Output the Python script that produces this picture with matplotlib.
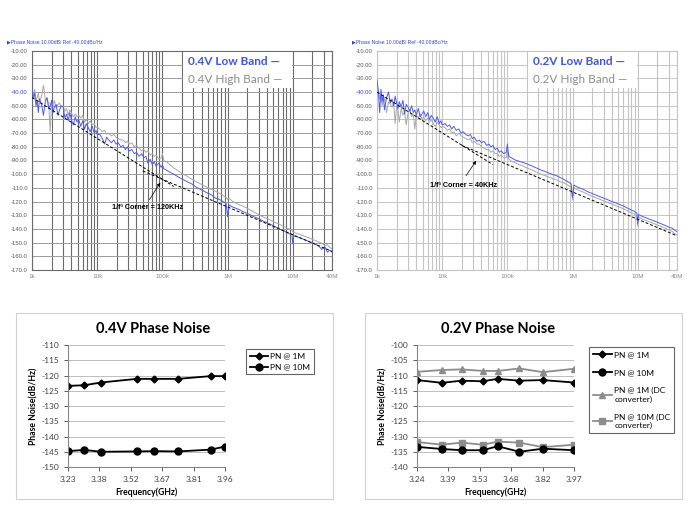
import matplotlib
matplotlib.use("Agg")
import matplotlib.pyplot as plt
import numpy as np
from matplotlib.patches import Rectangle
from matplotlib.ticker import LogLocator, NullFormatter

plt.rcParams['axes.unicode_minus'] = False

# offset frequencies shared by the four analyser traces (kHz)
freq_khz = [
    1.0, 1.05, 1.1, 1.15, 1.2, 1.25, 1.3, 1.4, 1.5, 1.6,
    1.7, 1.8, 1.9, 2.0, 2.1, 2.2, 2.35, 2.5, 2.65, 2.8,
    3.0, 3.2, 3.4, 3.6, 3.8, 4.0, 4.3, 4.6, 4.9, 5.2,
    5.6, 6.0, 6.4, 6.8, 7.3, 7.8, 8.4, 9.0, 9.6, 10.0,
    11, 12, 13, 14, 15, 16.5, 18, 19.5, 21, 23,
    25, 27, 29, 31, 34, 37, 40, 44, 48, 52,
    56, 60, 65, 70, 75, 80, 88, 96, 100, 105,
    115, 130, 150, 175, 200, 240, 280, 330, 400, 480,
    560, 650, 750, 850, 950, 1000, 1050, 1200, 1450, 1750,
    2100, 2500, 3000, 3600, 4300, 5200, 6200, 7400, 8800, 9700,
    10000, 10300, 12000, 14500, 17500, 21000, 25000, 28000, 31000, 34000,
    37000, 40000,
]

# phase noise traces (dBc/Hz)
pn_04v_low = [
    -38, -44, -41, -50, -46, -55, -45, -49, -57, -47,
    -44, -52, -50, -46, -55, -51, -49, -57, -53, -50,
    -51, -59, -56, -61, -55, -60, -64, -58, -62, -60,
    -65, -61, -67, -63, -66, -69, -65, -70, -68, -71,
    -71, -74, -78, -73, -75, -77, -75, -78, -77, -80,
    -79, -82, -80, -83, -82, -85, -84, -87, -85, -88,
    -87, -92, -89, -93, -91, -94, -92, -95, -93, -96,
    -97, -98.5, -100, -102, -103.5, -105.5, -107, -109.5, -111.5, -113.5,
    -115, -117.5, -118.5, -120, -121.5, -131, -122.5, -124, -125.5, -127.5,
    -129, -131, -132.5, -134.5, -136, -138, -140, -141.5, -143.5, -144,
    -151, -145, -146, -147.5, -149, -150.5, -152.5, -155, -153, -157,
    -155.5, -157,
]
pn_04v_high = [
    -39, -42, -38, -46, -44, -41, -47, -43, -35, -46,
    -45, -48, -69, -47, -50, -46, -52, -49, -48, -51,
    -50, -54, -52, -57, -53, -55, -58, -56, -58, -57,
    -59, -57, -62, -60, -63, -61, -64, -63, -66, -66,
    -67, -69, -68, -71, -70, -72, -71, -73, -74, -75,
    -75, -77, -76, -78, -77, -80, -79, -81, -83, -82,
    -84, -83, -86, -85, -87, -86, -89, -88, -85, -90,
    -91, -93, -95.5, -97.5, -99.5, -101.5, -103.5, -105.5, -107.5, -109.5,
    -111, -112.5, -114, -115.5, -117, -118.5, -117.5, -120, -122, -123.5,
    -125.5, -127.5, -129.5, -131.5, -133, -135, -136.5, -138.5, -140, -141,
    -142, -142.5, -143.5, -145, -146.5, -148, -149.5, -150.5, -152, -151.5,
    -153.5, -154.5,
]
pn_02v_low = [
    -31, -40, -55, -38, -47, -42, -53, -44, -40, -48,
    -45, -50, -43, -48, -52, -47, -51, -46, -56, -49,
    -51, -54, -50, -55, -53, -57, -52, -58, -56, -54,
    -58, -55, -60, -57, -59, -62, -58, -63, -61, -64,
    -63, -65, -64, -67, -65, -68, -67, -70, -69, -71,
    -72, -71, -74, -73, -76, -75, -77, -76, -79, -78,
    -80, -79, -82, -81, -84, -83, -85, -84, -78, -87,
    -88, -89.5, -90.5, -91.5, -92.5, -94, -95.5, -97, -98.5, -100,
    -101, -102.5, -104, -105.5, -107, -117, -108, -109.5, -111, -113,
    -114.5, -116, -117.5, -119, -120.5, -122, -123.5, -125.5, -127, -128.5,
    -136, -129.5, -131, -132.5, -134, -135.5, -137, -138, -139, -139.5,
    -141, -142,
]
pn_02v_high = [
    -40, -38, -45, -43, -50, -46, -44, -55, -47, -49,
    -51, -48, -63, -50, -53, -62, -52, -57, -54, -64,
    -55, -53, -58, -56, -67, -57, -59, -56, -60, -58,
    -61, -59, -62, -60, -63, -65, -62, -64, -66, -65,
    -66, -68, -67, -70, -69, -72, -70, -72, -73, -74,
    -75, -74, -77, -76, -78, -78, -80, -81, -82, -82,
    -84, -83, -85, -85, -87, -86, -88, -88, -82, -89,
    -90.5, -91.5, -93, -94, -95.5, -97, -98.5, -100, -101.5, -103,
    -104, -105.5, -106.5, -108, -109.5, -119, -110, -111.5, -113, -115,
    -116.5, -118, -119.5, -121, -122.5, -124, -125.5, -127.5, -129, -130.5,
    -138, -131.5, -133, -134.5, -136, -137.5, -139, -140, -141, -142,
    -143.5, -144.5,
]

# 1/f^3 and 1/f^2 asymptotes (Hz, dBc/Hz)
guide_04v_f3_hz = [1e3, 150e3]
guide_04v_f3_db = [-44, -109]
guide_04v_f2_hz = [50e3, 40e6]
guide_04v_f2_db = [-97.6, -156.4]
guide_02v_f3_hz = [1e3, 60e3]
guide_02v_f3_db = [-40, -93]
guide_02v_f2_hz = [20e3, 40e6]
guide_02v_f2_db = [-79, -145]

# summary over carrier frequency
freq_04v_ghz = [3.23, 3.305, 3.383, 3.55, 3.628, 3.742, 3.893, 3.96]
pn1m_04v = [-123.4, -123.2, -122.3, -121.1, -121.1, -121.1, -120.2, -120.2]
pn10m_04v = [-144.8, -144.4, -145.0, -144.9, -144.8, -144.9, -144.3, -143.3]
freq_02v_ghz = [3.24, 3.356, 3.447, 3.546, 3.615, 3.716, 3.825, 3.97]
pn1m_02v = [-111.5, -112.4, -111.7, -111.9, -111.1, -111.7, -111.5, -112.3]
pn10m_02v = [-133.4, -134.1, -134.5, -134.5, -133.2, -135.0, -134.0, -134.5]
pn1m_dc_02v = [-108.8, -108.2, -108.0, -108.5, -108.5, -107.7, -108.9, -107.8]
pn10m_dc_02v = [-131.8, -132.7, -132.0, -132.7, -131.7, -132.0, -133.5, -132.7]

xtick_hz = [1e3, 1e4, 1e5, 1e6, 1e7, 4e7]
xtick_txt = ['1k', '10k', '100k', '1M', '10M', '40M']

W, H = 689, 517
SANS = ['Liberation Sans', 'DejaVu Sans']
XL = ['Lato', 'DejaVu Sans']
BLUE = '#4d5cf0'
GREY = '#a8a8a8'


def fx(px):
    return px / W


def fy(py):
    return 1 - py / H


fig = plt.figure(figsize=(W / 100, H / 100), dpi=100)


def spectrum_panel(left_px, low, high, f3, f2, names, corner, note, tail, tip, vcol, hcol):
    ax = fig.add_axes([fx(left_px), fy(270), 300 / W, 219 / H])
    f_hz = np.array(freq_khz) * 1e3
    ax.plot(f3[0], f3[1], color='black', lw=0.7, dashes=(3, 2), zorder=4)
    ax.plot(f2[0], f2[1], color='black', lw=0.7, dashes=(3, 2), zorder=4)
    ax.plot(f_hz, high, color=GREY, lw=0.7, zorder=2)
    ax.plot(f_hz, low, color=BLUE, lw=0.7, zorder=3)
    ax.set_xscale('log')
    ax.set_xlim(1e3, 4e7)
    ax.set_ylim(-170, -10)
    ax.set_yticks(np.arange(-170, -9, 10))
    ax.set_yticklabels([f'{v:.2f}' if v > -100 else f'{v:.1f}' for v in np.arange(-170, -9, 10)],
                       fontsize=4.2, family=SANS, color='#555555')
    for lab in ax.get_yticklabels():
        if lab.get_text() == '-40.00':
            lab.set_color('#3344cc')
    ax.set_xticks(xtick_hz)
    ax.set_xticklabels(xtick_txt, fontsize=4.6, family=SANS, color='#8a8a8a')
    ax.xaxis.set_minor_locator(LogLocator(base=10, subs=range(2, 10), numticks=100))
    ax.xaxis.set_minor_formatter(NullFormatter())
    ax.tick_params(which='both', length=0, pad=3)
    ax.grid(True, which='both', axis='x', color=vcol, lw=0.8)
    ax.grid(True, which='major', axis='y', color=hcol, lw=0.7)
    for s in ax.spines.values():
        s.set_color(vcol)
        s.set_linewidth(0.8)
    ax.add_patch(Rectangle((0.503, 0.83), 0.365, 0.165, transform=ax.transAxes,
                           facecolor='white', edgecolor='none', zorder=5))
    ax.text(0.52, 0.954, names[0] + ' \u2014', transform=ax.transAxes, fontsize=8.5,
            family=XL, fontweight='bold', color='#3f57d6', va='center', zorder=6)
    ax.text(0.52, 0.872, names[1] + ' \u2014', transform=ax.transAxes, fontsize=8.5,
            family=XL, color='#8c8c8c', va='center', zorder=6)
    ax.annotate('', xy=tip, xytext=tail,
                arrowprops=dict(arrowstyle='-|>', color='black', lw=0.5,
                                mutation_scale=5), zorder=6)
    ax.text(note[0], note[1], corner, fontsize=5.2, family=SANS, fontweight='bold',
            ha='center', va='center', zorder=6)
    fig.text(fx(left_px - 25), fy(42), '\u25b6Phase Noise 10.00dB/ Ref -40.00dBc/Hz',
             fontsize=3.6, family=SANS, color='#3344cc', va='center')
    return ax


spectrum_panel(32, pn_04v_low, pn_04v_high,
               (guide_04v_f3_hz, guide_04v_f3_db), (guide_04v_f2_hz, guide_04v_f2_db),
               ('0.4V Low Band', '0.4V High Band'), '1/f\u00b3 Corner = 120KHz',
               (60e3, -124.7), (60e3, -120.3), (98e3, -104.5), '#6b6b6b', '#9a9a9a')
spectrum_panel(377, pn_02v_low, pn_02v_high,
               (guide_02v_f3_hz, guide_02v_f3_db), (guide_02v_f2_hz, guide_02v_f2_db),
               ('0.2V Low Band', '0.2V High Band'), '1/f\u00b3 Corner = 40KHz',
               (21.6e3, -107.9), (22e3, -102.8), (35e3, -88.5), '#c4c4c4', '#c4c4c4')


def summary_axes(left_px, ylo, yhi, x0, x1, title, title_x):
    fig.add_artist(Rectangle((fx(left_px - 52), fy(499)), 317 / W, 186 / H,
                             transform=fig.transFigure, fill=False,
                             edgecolor='#d0d0d0', lw=0.8))
    ax = fig.add_axes([fx(left_px), fy(467), 157 / W, 122 / H])
    ax.set_ylim(ylo, yhi)
    ax.set_yticks(np.arange(ylo, yhi + 1, 5))
    ax.set_xlim(x0, x1)
    ticks = np.linspace(x0, x1, 6)
    ax.set_xticks(ticks)
    ax.set_xticklabels([f'{t:.2f}' for t in ticks])
    ax.tick_params(labelsize=6, colors='#404040', length=3, width=0.6)
    for lab in ax.get_xticklabels() + ax.get_yticklabels():
        lab.set_family(XL)
    ax.grid(True, axis='y', color='#bdbdbd', lw=0.7)
    ax.set_axisbelow(True)
    for s in ['top', 'right']:
        ax.spines[s].set_visible(False)
    for s in ['left', 'bottom']:
        ax.spines[s].set_color('#868686')
        ax.spines[s].set_linewidth(0.8)
    ax.set_xlabel('Frequency(GHz)', fontsize=6.2, family=XL, fontweight='bold', labelpad=3)
    ax.set_ylabel('Phase Noise(dB/Hz)', fontsize=6.2, family=XL, fontweight='bold', labelpad=2)
    fig.text(fx(title_x), fy(329), title, fontsize=10.5, family=XL, fontweight='bold',
             ha='center', va='center')
    return ax


ax3 = summary_axes(68, -150, -110, 3.23, 3.96, '0.4V Phase Noise', 153)
h1, = ax3.plot(freq_04v_ghz, pn1m_04v, color='black', lw=1.3, marker='D', ms=3.5)
h2, = ax3.plot(freq_04v_ghz, pn10m_04v, color='black', lw=1.3, marker='o', ms=5)
leg1 = fig.legend([h1, h2], ['PN @ 1M', 'PN @ 10M'], loc='upper left',
                  bbox_to_anchor=(fx(242), fy(345)), frameon=True, fancybox=False,
                  edgecolor='#404040', handlelength=2.2, handletextpad=0.3, borderpad=0.4,
                  labelspacing=0.5, prop={'family': XL, 'size': 6})
leg1.get_frame().set_linewidth(0.8)

ax4 = summary_axes(417, -140, -100, 3.24, 3.97, '0.2V Phase Noise', 498)
g3, = ax4.plot(freq_02v_ghz, pn1m_dc_02v, color='#8c8c8c', lw=1.3, marker='^', ms=4)
g4, = ax4.plot(freq_02v_ghz, pn10m_dc_02v, color='#8c8c8c', lw=1.3, marker='s', ms=4.5)
g1, = ax4.plot(freq_02v_ghz, pn1m_02v, color='black', lw=1.3, marker='D', ms=3.5)
g2, = ax4.plot(freq_02v_ghz, pn10m_02v, color='black', lw=1.3, marker='o', ms=5)
leg2 = fig.legend([g1, g2, g3, g4],
                  ['PN @ 1M', 'PN @ 10M', 'PN @ 1M (DC\nconverter)', 'PN @ 10M (DC\nconverter)'],
                  loc='upper left', bbox_to_anchor=(fx(585), fy(343)), frameon=True,
                  fancybox=False, edgecolor='#404040', handlelength=2.2, handletextpad=0.3,
                  borderpad=0.5, labelspacing=1.3, prop={'family': XL, 'size': 6})
leg2.get_frame().set_linewidth(0.8)

fig.savefig('out.png', dpi=100)
